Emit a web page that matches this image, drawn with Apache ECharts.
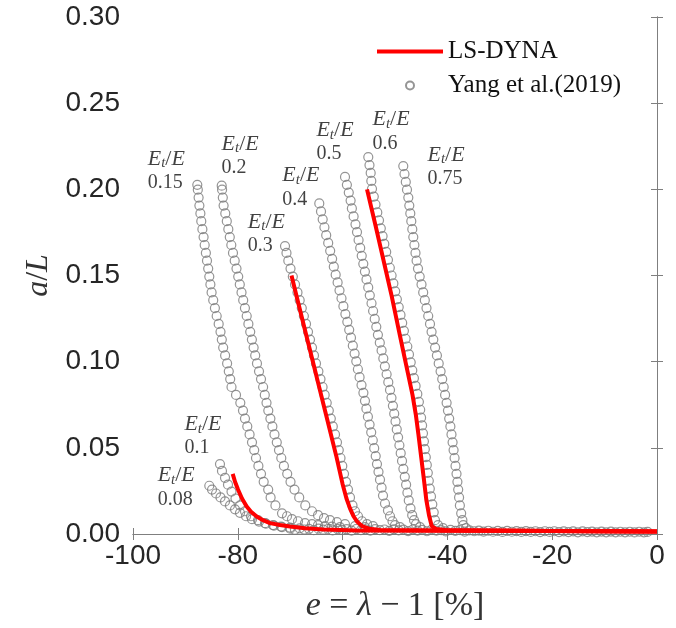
<!DOCTYPE html>
<html><head><meta charset="utf-8">
<script src="https://cdn.jsdelivr.net/npm/echarts@6/dist/echarts.min.js"></script>
<style>html,body{margin:0;padding:0;background:#fff}#c{width:676px;height:628px}</style>
</head><body><div id="c"></div>
<script>
// ---------- axes ----------
const xRange = [-100, 0];
const xStep = 20;
const yRange = [0, 0.30];
const yStep = 0.05;

// ---------- Yang et al. (2019) experimental curves, [e %, a/L] ----------
const yang_008 = [[-85.44,0.0280],[-84.92,0.0258],[-84.16,0.0235],[-83.30,0.0212],[-82.44,0.0189],[-81.49,0.0166],[-80.53,0.0143],[-79.58,0.0123],[-78.43,0.0103],[-77.29,0.0086],[-75.95,0.0072],[-74.62,0.0060],[-73.09,0.0049],[-71.56,0.0040]];
const yang_01 = [[-83.40,0.0406],[-83.02,0.0366],[-82.44,0.0326],[-81.87,0.0286],[-81.20,0.0246],[-80.44,0.0206],[-79.58,0.0166],[-78.63,0.0132],[-77.48,0.0103],[-76.14,0.0080],[-74.81,0.0063],[-73.28,0.0052],[-71.76,0.0043],[-70.04,0.0037]];
const yang_015 = [[-87.73,0.2026],[-87.63,0.1998],[-87.48,0.1952],[-87.33,0.1906],[-87.14,0.1860],[-86.97,0.1815],[-86.76,0.1769],[-86.53,0.1723],[-86.32,0.1677],[-86.09,0.1631],[-85.88,0.1586],[-85.65,0.1540],[-85.44,0.1494],[-85.23,0.1448],[-85.00,0.1402],[-84.69,0.1357],[-84.37,0.1311],[-84.03,0.1265],[-83.65,0.1219],[-83.30,0.1173],[-83.05,0.1128],[-82.79,0.1082],[-82.42,0.1036],[-82.04,0.0990],[-81.72,0.0944],[-81.45,0.0899],[-81.20,0.0853],[-80.34,0.0807],[-79.52,0.0761],[-79.01,0.0716],[-78.63,0.0670],[-78.19,0.0624],[-77.75,0.0578],[-77.29,0.0532],[-76.87,0.0487],[-76.53,0.0441],[-76.07,0.0395],[-75.57,0.0349],[-75.06,0.0303],[-74.20,0.0258],[-73.74,0.0212],[-72.82,0.0166],[-71.56,0.0120],[-70.61,0.0103],[-69.66,0.0086],[-68.51,0.0074],[-67.18,0.0063],[-65.84,0.0057],[-64.69,0.0052],[-63.36,0.0046],[-62.02,0.0043],[-60.50,0.0040]];
const yang_02 = [[-83.07,0.2021],[-83.00,0.1998],[-82.86,0.1952],[-82.71,0.1906],[-82.39,0.1860],[-82.10,0.1815],[-81.81,0.1769],[-81.53,0.1723],[-81.24,0.1677],[-80.92,0.1631],[-80.59,0.1586],[-80.25,0.1540],[-79.92,0.1494],[-79.62,0.1448],[-79.29,0.1402],[-78.97,0.1357],[-78.64,0.1311],[-78.30,0.1265],[-77.98,0.1219],[-77.63,0.1173],[-77.31,0.1128],[-76.98,0.1082],[-76.68,0.1036],[-76.34,0.0990],[-75.95,0.0944],[-75.57,0.0899],[-75.17,0.0853],[-74.85,0.0807],[-74.52,0.0761],[-74.18,0.0716],[-73.78,0.0670],[-73.40,0.0624],[-73.00,0.0578],[-72.56,0.0532],[-72.14,0.0487],[-71.70,0.0441],[-71.20,0.0395],[-70.57,0.0349],[-69.94,0.0303],[-69.18,0.0258],[-68.28,0.0212],[-67.12,0.0166],[-65.84,0.0132],[-64.69,0.0109],[-63.55,0.0092],[-62.41,0.0080],[-61.07,0.0069],[-59.54,0.0057],[-57.63,0.0046],[-55.73,0.0040]];
const yang_03 = [[-70.99,0.1671],[-70.71,0.1631],[-70.36,0.1586],[-69.94,0.1540],[-69.50,0.1494],[-69.08,0.1448],[-68.61,0.1402],[-68.19,0.1357],[-67.79,0.1311],[-67.39,0.1265],[-66.98,0.1219],[-66.60,0.1173],[-66.22,0.1128],[-65.84,0.1082],[-65.46,0.1036],[-65.08,0.0990],[-64.62,0.0944],[-64.22,0.0899],[-63.82,0.0853],[-63.42,0.0807],[-63.03,0.0761],[-62.63,0.0716],[-62.25,0.0670],[-61.87,0.0624],[-61.45,0.0578],[-61.07,0.0532],[-60.73,0.0487],[-60.40,0.0441],[-60.06,0.0395],[-59.73,0.0349],[-59.35,0.0303],[-58.97,0.0258],[-58.59,0.0212],[-58.11,0.0166],[-57.63,0.0132],[-57.06,0.0103],[-56.30,0.0074],[-55.34,0.0057],[-54.20,0.0046]];
const yang_04 = [[-64.45,0.1918],[-64.12,0.1872],[-63.80,0.1826],[-63.47,0.1780],[-63.13,0.1734],[-62.75,0.1689],[-62.37,0.1643],[-62.00,0.1597],[-61.68,0.1551],[-61.32,0.1505],[-60.95,0.1460],[-60.59,0.1414],[-60.21,0.1368],[-59.85,0.1322],[-59.47,0.1276],[-59.10,0.1231],[-58.74,0.1185],[-58.40,0.1139],[-58.05,0.1093],[-57.71,0.1047],[-57.39,0.1002],[-57.08,0.0956],[-56.76,0.0910],[-56.39,0.0864],[-56.03,0.0819],[-55.73,0.0773],[-55.46,0.0727],[-55.17,0.0681],[-54.85,0.0635],[-54.54,0.0590],[-54.24,0.0544],[-53.97,0.0498],[-53.68,0.0452],[-53.44,0.0406],[-53.15,0.0361],[-52.86,0.0315],[-52.56,0.0269],[-52.29,0.0223],[-51.91,0.0177],[-51.34,0.0137],[-50.95,0.0103],[-50.48,0.0074],[-50.00,0.0052],[-49.05,0.0040]];
const yang_05 = [[-59.54,0.2072],[-59.18,0.2026],[-58.82,0.1981],[-58.47,0.1935],[-58.23,0.1889],[-57.90,0.1843],[-57.54,0.1797],[-57.25,0.1752],[-56.95,0.1706],[-56.64,0.1660],[-56.35,0.1614],[-56.05,0.1568],[-55.74,0.1523],[-55.44,0.1477],[-55.11,0.1431],[-54.81,0.1385],[-54.48,0.1339],[-54.18,0.1294],[-53.87,0.1248],[-53.57,0.1202],[-53.26,0.1156],[-52.90,0.1110],[-52.56,0.1065],[-52.23,0.1019],[-51.93,0.0973],[-51.60,0.0927],[-51.28,0.0881],[-50.95,0.0836],[-50.67,0.0790],[-50.40,0.0744],[-50.15,0.0698],[-49.90,0.0653],[-49.66,0.0607],[-49.41,0.0561],[-49.16,0.0515],[-48.91,0.0469],[-48.66,0.0424],[-48.40,0.0378],[-48.13,0.0332],[-47.88,0.0286],[-47.63,0.0240],[-47.37,0.0195],[-47.04,0.0149],[-46.72,0.0109],[-46.37,0.0080],[-45.99,0.0057],[-45.23,0.0040]];
const yang_06 = [[-55.10,0.2187],[-54.87,0.2141],[-54.64,0.2095],[-54.52,0.2049],[-54.39,0.2003],[-54.05,0.1958],[-53.72,0.1912],[-53.38,0.1866],[-53.05,0.1820],[-52.71,0.1774],[-52.37,0.1729],[-52.04,0.1683],[-51.68,0.1637],[-51.34,0.1591],[-50.99,0.1545],[-50.65,0.1500],[-50.31,0.1454],[-49.96,0.1408],[-49.64,0.1362],[-49.29,0.1317],[-48.95,0.1271],[-48.63,0.1225],[-48.30,0.1179],[-47.98,0.1133],[-47.65,0.1088],[-47.33,0.1042],[-47.00,0.0996],[-46.70,0.0950],[-46.39,0.0904],[-46.07,0.0859],[-45.74,0.0813],[-45.44,0.0767],[-45.19,0.0721],[-45.02,0.0675],[-44.83,0.0630],[-44.66,0.0584],[-44.48,0.0538],[-44.31,0.0492],[-44.12,0.0446],[-43.93,0.0401],[-43.74,0.0355],[-43.55,0.0309],[-43.36,0.0263],[-43.13,0.0218],[-42.88,0.0172],[-42.61,0.0126],[-42.37,0.0080],[-41.79,0.0052],[-40.84,0.0034]];
const yang_075 = [[-48.42,0.2135],[-48.19,0.2089],[-47.94,0.2043],[-47.71,0.1998],[-47.46,0.1952],[-47.27,0.1906],[-47.08,0.1860],[-46.89,0.1815],[-46.70,0.1769],[-46.51,0.1723],[-46.30,0.1677],[-46.09,0.1631],[-45.88,0.1586],[-45.61,0.1540],[-45.29,0.1494],[-44.94,0.1448],[-44.62,0.1402],[-44.31,0.1357],[-43.99,0.1311],[-43.66,0.1265],[-43.32,0.1219],[-43.02,0.1173],[-42.69,0.1128],[-42.35,0.1082],[-42.00,0.1036],[-41.66,0.0990],[-41.30,0.0944],[-40.99,0.0899],[-40.71,0.0853],[-40.44,0.0807],[-40.15,0.0761],[-39.89,0.0716],[-39.66,0.0670],[-39.43,0.0624],[-39.22,0.0578],[-39.01,0.0532],[-38.82,0.0487],[-38.63,0.0441],[-38.45,0.0395],[-38.26,0.0349],[-38.09,0.0303],[-37.94,0.0258],[-37.77,0.0212],[-37.62,0.0166],[-37.37,0.0120],[-37.14,0.0080],[-36.97,0.0052],[-36.45,0.0034]];
// flat post-collapse tails of all tests, overlapping along the axis
const yangTail = [[-70.0,0.0031],[-69.1,0.0024],[-68.2,0.0033],[-67.3,0.0026],[-66.4,0.0030],[-65.5,0.0022],[-64.6,0.0031],[-63.7,0.0025],[-62.8,0.0029],[-61.9,0.0021],[-61.0,0.0030],[-60.1,0.0024],[-59.2,0.0028],[-58.3,0.0020],[-57.4,0.0029],[-56.5,0.0023],[-55.6,0.0027],[-54.7,0.0019],[-53.8,0.0028],[-52.9,0.0022],[-52.0,0.0026],[-51.1,0.0018],[-50.2,0.0027],[-49.3,0.0021],[-48.4,0.0025],[-47.5,0.0017],[-46.6,0.0026],[-45.7,0.0020],[-44.8,0.0024],[-43.9,0.0016],[-43.0,0.0025],[-42.1,0.0019],[-41.2,0.0023],[-40.3,0.0015],[-39.4,0.0024],[-38.5,0.0018],[-37.6,0.0022],[-36.7,0.0014],[-35.8,0.0021],[-34.9,0.0016],[-34.0,0.0020],[-33.1,0.0014],[-32.2,0.0019],[-31.3,0.0013],[-30.4,0.0018],[-29.5,0.0012],[-28.6,0.0018],[-27.7,0.0013],[-26.8,0.0017],[-25.9,0.0012],[-25.0,0.0017],[-24.1,0.0012],[-23.2,0.0016],[-22.3,0.0011],[-21.4,0.0016],[-20.5,0.0012],[-19.6,0.0016],[-18.7,0.0011],[-17.8,0.0015],[-16.9,0.0011],[-16.0,0.0015],[-15.1,0.0010],[-14.2,0.0015],[-13.3,0.0011],[-12.4,0.0014],[-11.5,0.0010],[-10.6,0.0014],[-9.7,0.0010],[-8.8,0.0014],[-7.9,0.0010],[-7.0,0.0013],[-6.1,0.0010],[-5.2,0.0013],[-4.3,0.0009],[-3.4,0.0013],[-2.5,0.0010],[-1.8,0.0012]];

// ---------- LS-DYNA simulations, [e %, a/L] ----------
const dyna_01 = [[-80.97,0.0349],[-80.53,0.0303],[-79.96,0.0258],[-79.20,0.0206],[-78.30,0.0160],[-77.48,0.0129],[-76.39,0.0101],[-75.19,0.0080],[-73.86,0.0063],[-71.95,0.0052],[-70.04,0.0044],[-67.18,0.0034],[-63.74,0.0026],[-57.25,0.0021],[-40,0.0019],[-20,0.0017],[0,0.0015]];
const dyna_03 = [[-69.75,0.1500],[-68.78,0.1380],[-66.91,0.1150],[-65.04,0.0922],[-63.17,0.0693],[-61.16,0.0446],[-60.02,0.0292],[-59.26,0.0206],[-58.59,0.0149],[-57.92,0.0103],[-57.16,0.0069],[-56.30,0.0046],[-54.96,0.0031],[-52.86,0.0023],[-40,0.0020],[-20,0.0017],[0,0.0015]];
const dyna_06 = [[-55.34,0.2000],[-53.64,0.1780],[-51.91,0.1551],[-50.63,0.1380],[-49.05,0.1150],[-47.46,0.0922],[-46.66,0.0807],[-46.03,0.0693],[-45.53,0.0578],[-45.00,0.0446],[-44.50,0.0321],[-44.01,0.0195],[-43.51,0.0109],[-43.00,0.0046],[-42.17,0.0029],[-40.46,0.0023],[-20,0.0017],[0,0.0015]];

// ---------- curve annotations (E_t/E ratio, label anchor = top-left) ----------
const ratioLabels = ['0.15','0.2','0.3','0.4','0.5','0.6','0.75','0.1','0.08'];
const ratioAnchors = [[-97.1,0.2244],[-83.0,0.2330],[-78.0,0.1877],[-71.4,0.2147],[-64.9,0.2410],[-54.2,0.2473],[-43.7,0.2267],[-90.1,0.0704],[-95.2,0.0406]];

const legendNames = ['LS-DYNA','Yang et al.(2019)'];

// ---------- chart ----------
const SERIF = "'Liberation Serif','DejaVu Serif',serif";
const SANS = "'Liberation Sans',Arial,sans-serif";
const GRAY = '#7f7f7f';
const chart = echarts.init(document.getElementById('c'), null, {renderer:'canvas'});

const yangAll = [].concat(yang_008, yang_01, yang_015, yang_02, yang_03, yang_04, yang_05, yang_06, yang_075, yangTail);

function redLine(data){
  return {name: legendNames[0], type:'line', data: data, symbol:'none', showSymbol:false,
    lineStyle:{color:'#ff0000', width:4}, itemStyle:{color:'#ff0000'}, z:5, silent:true};
}

const axisCommon = {
  axisLine:{show:true, lineStyle:{color:GRAY, width:1}},
  axisTick:{show:true, inside:true, length:6, lineStyle:{color:GRAY}},
  splitLine:{show:false}
};

chart.setOption({
  animation:false,
  backgroundColor:'#ffffff',
  grid:{left:133, right:19, top:17, bottom:87, containLabel:false},
  legend:{
    data: [{name:legendNames[0], icon:'path://M0,0H66V4H0Z'}, {name:legendNames[1], icon:'circle'}],
    orient:'vertical', left:372, top:34,
    itemWidth:66, itemHeight:8, itemGap:9,
    textStyle:{fontFamily:SERIF, fontSize:25, color:'#111'},
    selectedMode:false
  },
  xAxis:[
    Object.assign({type:'value', min:xRange[0], max:xRange[1], interval:xStep, position:'bottom',
      axisLabel:{fontFamily:SANS, fontSize:28, color:'#262626', margin:8},
      name:'{i|e} = {i|λ} − 1 [%]', nameLocation:'middle', nameGap:55,
      nameTextStyle:{fontFamily:SERIF, fontSize:34, color:'#333', rich:{i:{fontFamily:SERIF, fontStyle:'italic', fontSize:34, color:'#333'}}}
    }, axisCommon),
    Object.assign({type:'value', min:xRange[0], max:xRange[1], interval:xStep, position:'top',
      axisLabel:{show:false}}, axisCommon)
  ],
  yAxis:[
    Object.assign({type:'value', min:yRange[0], max:yRange[1], interval:yStep, position:'left',
      axisLabel:{fontFamily:SANS, fontSize:28, color:'#262626', margin:13, formatter:v=>v.toFixed(2)},
      name:'{i|a}/{i|L}', nameLocation:'middle', nameGap:76, nameRotate:90,
      nameTextStyle:{fontFamily:SERIF, fontSize:32, color:'#333', rich:{i:{fontFamily:SERIF, fontStyle:'italic', fontSize:32, color:'#333'}}}
    }, axisCommon),
    Object.assign({type:'value', min:yRange[0], max:yRange[1], interval:yStep, position:'right',
      axisLabel:{show:false}}, axisCommon)
  ],
  series:[
    {name: legendNames[1], type:'scatter', data: yangAll, symbol:'circle', symbolSize:9,
     itemStyle:{color:'rgba(0,0,0,0)', borderColor:'#7a7a7a', borderWidth:1.2}, z:2, silent:true},
    redLine(dyna_01), redLine(dyna_03), redLine(dyna_06),
    {name:'ratios', type:'scatter', data: ratioAnchors,
     symbolSize:1, itemStyle:{color:'rgba(0,0,0,0)'}, z:6, silent:true,
     label:{show:true, position:[0,0], align:'left', verticalAlign:'top',
       formatter:(p)=>'{i|E}{s|t}{n|/}{i|E}\n{v|' + ratioLabels[p.dataIndex] + '}',
       rich:{
         i:{fontFamily:SERIF, fontStyle:'italic', fontSize:22, lineHeight:24, color:'#111'},
         s:{fontFamily:SERIF, fontStyle:'italic', fontSize:15, lineHeight:10, verticalAlign:'bottom', color:'#111'},
         n:{fontFamily:SERIF, fontSize:22, lineHeight:24, color:'#111'},
         v:{fontFamily:SERIF, fontSize:20, lineHeight:24, color:'#111'}
       }}}
  ]
});
</script></body></html>
